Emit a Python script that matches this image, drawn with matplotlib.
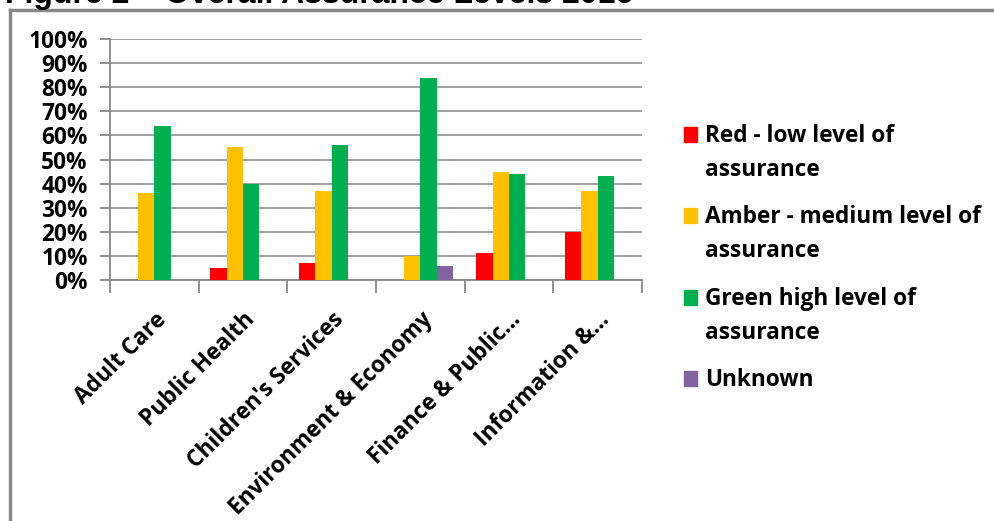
import matplotlib
matplotlib.use('Agg')
import matplotlib.pyplot as plt
import numpy as np
from matplotlib.lines import Line2D
from matplotlib.patches import Rectangle
from matplotlib.ticker import PercentFormatter

# Daten aus dem Diagramm (Anteile in %)
categories = ['Adult Care', 'Public Health', "Children's Services",
              'Environment & Economy', 'Finance & Public...', 'Information &...']
red = [0, 5, 7, 0, 11, 20]
amber = [36, 55, 37, 10, 45, 37]
green = [64, 40, 56, 84, 44, 43]
unknown = [0, 0, 0, 6, 0, 0]

series_labels = ['Red - low level of\nassurance',
                 'Amber - medium level of\nassurance',
                 'Green high level of\nassurance',
                 'Unknown']
series_colors = ['#FF0000', '#FFC000', '#00B050', '#8064A2']
title = 'Figure 2 – Overall Assurance Levels 2016'

W, H = 995, 521
fig = plt.figure(figsize=(W / 100, H / 100), dpi=100)
font = 'Open Sans'
fs = 16.3

# Plotbereich in Pixeln
left, right, top, bottom = 110, 642, 39, 280
ax = fig.add_axes([left / W, 1 - bottom / H, (right - left) / W, (bottom - top) / H])

x = np.arange(len(categories))
bw = 0.184
for k, (vals, col) in enumerate(zip([red, amber, green, unknown], series_colors)):
    ax.bar(x + (k - 1.5) * bw, vals, width=bw, color=col, zorder=3)

ax.set_xlim(-0.5, len(categories) - 0.5)
ax.set_ylim(0, 100)
ax.set_yticks(np.arange(0, 101, 10))
ax.yaxis.set_major_formatter(PercentFormatter(decimals=0))
ax.grid(axis='y', color='#999999', linewidth=1.3, zorder=0)
for s in ['top', 'right']:
    ax.spines[s].set_visible(False)
for s in ['left', 'bottom']:
    ax.spines[s].set_color('#888888')
    ax.spines[s].set_linewidth(1.3)

ax.tick_params(axis='y', length=7, width=1.3, color='#888888', pad=9,
               labelsize=fs)
for lab in ax.get_yticklabels():
    lab.set_fontfamily(font)
    lab.set_fontweight('bold')

# Kategorie-Trennstriche unten, Beschriftung in der Mitte
ax.set_xticks(np.arange(-0.5, len(categories), 1.0), minor=True)
ax.tick_params(axis='x', which='minor', length=9, width=1.3, color='#888888')
ax.set_xticks(x)
ax.set_xticklabels(categories, rotation=45, ha='right', rotation_mode='anchor',
                   fontsize=fs, fontfamily=font, fontweight='bold')
ax.tick_params(axis='x', which='major', length=0, pad=20)

# Legende von Hand (Quadrat auf Höhe der ersten Zeile)
leg_y = [127, 208, 290, 371]
for lab, col, yy in zip(series_labels, series_colors, leg_y):
    fig.add_artist(Rectangle((684 / W, 1 - (yy + 15) / H), 13 / W, 15 / H,
                             transform=fig.transFigure, color=col))
    fig.text(705 / W, 1 - (yy - 3) / H, lab, fontsize=fs, fontfamily=font,
             fontweight='bold', va='top', ha='left', linespacing=1.58)

# Rahmen (nur oben und links sichtbar)
fig.add_artist(Line2D([9.5 / W, 1.01], [1 - 9.5 / H] * 2, transform=fig.transFigure,
                      color='#888888', linewidth=2.5))
fig.add_artist(Line2D([9.5 / W] * 2, [1 - 9.5 / H, -0.01], transform=fig.transFigure,
                      color='#888888', linewidth=2.5))

# Titel, oben abgeschnitten
fig.text(5 / W, 1 - 3 / H, title, fontsize=23, fontfamily='Liberation Sans',
         fontweight='bold', va='baseline', ha='left')

fig.savefig('out.png', dpi=100)
